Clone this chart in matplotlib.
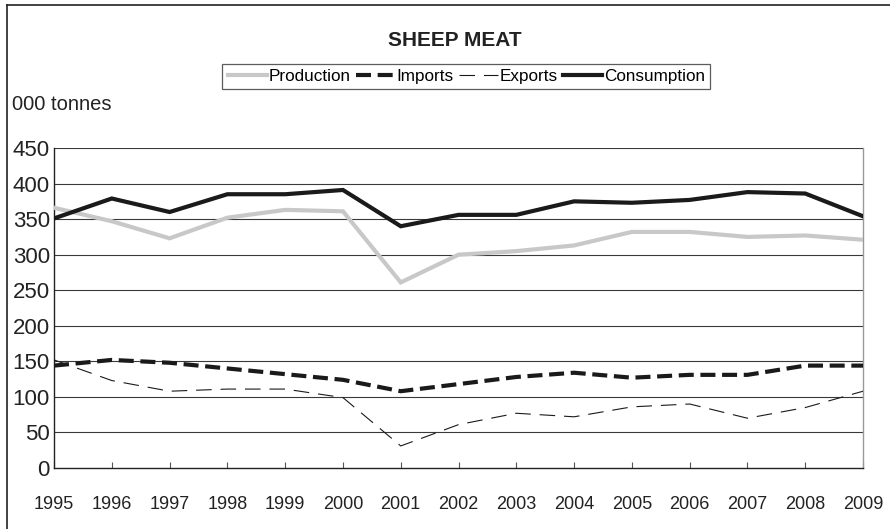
import matplotlib
matplotlib.use("Agg")
import matplotlib.pyplot as plt
from matplotlib.lines import Line2D

plt.rcParams["font.family"] = ["Liberation Sans", "DejaVu Sans"]

years = [1995, 1996, 1997, 1998, 1999, 2000, 2001, 2002,
         2003, 2004, 2005, 2006, 2007, 2008, 2009]
production = [366, 347, 323, 352, 363, 361, 261, 300,
              305, 313, 332, 332, 325, 327, 321]
imports = [144, 152, 148, 140, 132, 124, 108, 118,
           128, 134, 127, 131, 131, 144, 144]
exports = [152, 123, 108, 111, 111, 99, 31, 61,
           77, 72, 86, 90, 70, 85, 108]
consumption = [351, 379, 360, 385, 385, 391, 340, 356,
               356, 375, 373, 377, 388, 386, 354]

yticks = list(range(0, 451, 50))

fig = plt.figure(figsize=(8.9, 5.29), dpi=100)
ax = fig.add_axes([0.0607, 0.1153, 0.9090, 0.6049])

x = list(range(len(years)))

for v in yticks[1:]:
    ax.axhline(v, color="#3a3a3a", lw=0.8, zorder=1)

ax.plot(x, production, color="#c8c8c8", lw=3.0, solid_joinstyle="miter",
        label="Production", zorder=3)
ax.plot(x, imports, color="#1a1a1a", lw=3.0, linestyle=(0, (3.6, 1.6)),
        label="Imports", zorder=4)
ax.plot(x, exports, color="#1a1a1a", lw=0.8, linestyle=(0, (14, 8)),
        label="Exports", zorder=4)
ax.plot(x, consumption, color="#1a1a1a", lw=3.0, solid_joinstyle="miter",
        label="Consumption", zorder=5)

ax.set_xlim(0, len(years) - 1)
ax.set_ylim(0, 450)
ax.set_xticks(x)
ax.set_xticklabels([str(y) for y in years], fontsize=13, color="#222222")
ax.set_yticks(yticks)
ax.set_yticklabels([str(v) for v in yticks], fontsize=16, color="#222222")
ax.tick_params(axis="x", direction="in", length=4.5, width=0.8,
               color="#555555", pad=20)
ax.tick_params(axis="y", length=0, pad=3)

for side in ("left", "bottom"):
    ax.spines[side].set_color("#222222")
    ax.spines[side].set_linewidth(1.0)
ax.spines["top"].set_visible(False)
ax.spines["right"].set_color("#999999")
ax.spines["right"].set_linewidth(1.0)

fig.text(0.511, 0.924, "SHEEP MEAT", ha="center", va="center",
         fontsize=15, fontweight="bold", color="#222222")
fig.text(0.013, 0.803, "000 tonnes", ha="left", va="center",
         fontsize=14.5, color="#222222")

handles, labels = ax.get_legend_handles_labels()
leg = fig.legend(handles, labels, loc="center", bbox_to_anchor=(0.524, 0.856),
                 ncol=4, fontsize=12.3, frameon=True, fancybox=False,
                 edgecolor="#333333", handlelength=2.3, handletextpad=0.1,
                 columnspacing=0.3, borderpad=0.3, borderaxespad=0)
leg.get_frame().set_linewidth(0.9)

# outer chart border (left and top edges)
fig.add_artist(Line2D([7 / 890, 7 / 890], [0, 1 - 5 / 529],
                      transform=fig.transFigure, color="#222222", lw=1.2))
fig.add_artist(Line2D([7 / 890, 1], [1 - 5 / 529, 1 - 5 / 529],
                      transform=fig.transFigure, color="#222222", lw=1.2))

fig.savefig("out.png", dpi=100, facecolor="white")
